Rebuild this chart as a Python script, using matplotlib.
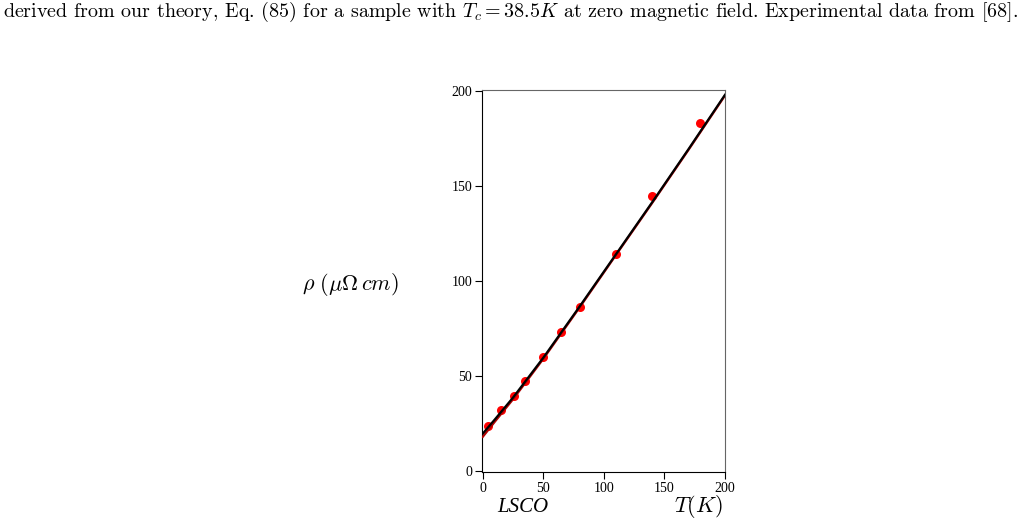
import matplotlib
matplotlib.use('Agg')
import matplotlib.pyplot as plt

temp_data = [4, 15, 26, 35, 50, 65, 80, 110, 140, 179]
rho_data = [23.5, 32.0, 39.3, 47.3, 59.9, 73.0, 86.2, 114.1, 144.6, 183.2]

# theory curves (two nearly overlapping lines)
temp_fit = [0, 10, 25, 50, 80, 110, 140, 170, 200]
rho_fit_black = [19.5, 27.0, 38.5, 59.5, 86.5, 114.0, 141.5, 169.5, 198.0]
rho_fit_red = [17.8, 25.8, 37.6, 58.9, 86.0, 113.6, 141.1, 169.1, 197.6]

x_ticks = [0, 50, 100, 150, 200]
y_ticks = [0, 50, 100, 150, 200]

caption = ('derived from our theory, Eq. (85) for a sample with $T_c = 38.5K$ '
           'at zero magnetic field. Experimental data from [68].')

plt.rcParams['mathtext.fontset'] = 'cm'
serif = ['Liberation Serif', 'DejaVu Serif']

fig = plt.figure(figsize=(10.27, 5.24), dpi=100)
ax = fig.add_axes([482 / 1027, 1 - 472 / 524, 243.5 / 1027, 382 / 524])

ax.plot(temp_data, rho_data, 'o', color='#ff0000', markersize=6.5,
        markeredgewidth=0, zorder=2)
ax.plot(temp_fit, rho_fit_red, color='#b00000', linewidth=1.6, zorder=3)
ax.plot(temp_fit, rho_fit_black, color='black', linewidth=1.6, zorder=4)

ax.set_xlim(-0.6, 200.4)
ax.set_ylim(-0.7, 200.5)
ax.set_xticks(x_ticks)
ax.set_yticks(y_ticks)
ax.tick_params(direction='out', length=5, width=0.8, pad=2,
               top=False, right=False, labelsize=10)
for lab in ax.get_xticklabels() + ax.get_yticklabels():
    lab.set_family(serif)
for side in ['top', 'right']:
    ax.spines[side].set_color('#666666')
for spine in ax.spines.values():
    spine.set_linewidth(0.8)

fig.text(350 / 1027, 1 - 284 / 524, r'$\rho\ (\mu\Omega\, cm)$', fontsize=16,
         ha='center', va='center')
fig.text(497 / 1027, 1 - 507 / 524, 'LSCO', family=serif, style='italic',
         fontsize=15, ha='left', va='center')
fig.text(723 / 1027, 1 - 507 / 524, '$T(K)$', fontsize=16,
         ha='right', va='center')

fig.text(3 / 1027, 1 - 12 / 524, caption, family='cmr10', fontsize=14.4,
         ha='left', va='center')

fig.savefig('out.png', dpi=100)
